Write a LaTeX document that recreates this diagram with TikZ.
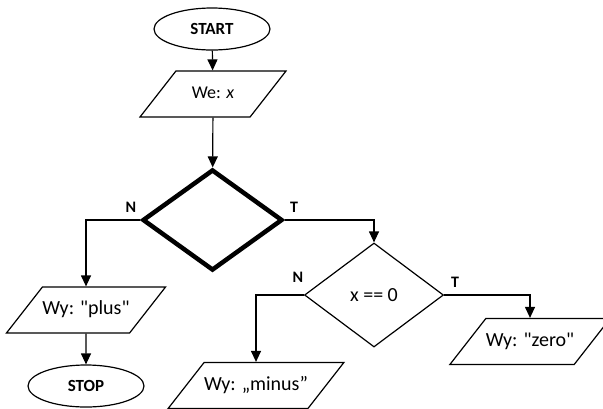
\documentclass[tikz,border=0pt]{standalone}
\usepackage{fontspec}
\setmainfont{Carlito}
\usetikzlibrary{arrows.meta,positioning,shapes.geometric}

\begin{document}
\begin{tikzpicture}[x=1pt,y=-1pt,line width=1.2pt,
  term/.style={ellipse,draw,minimum width=116pt,minimum height=42pt,inner sep=0pt,
    font=\fontsize{17}{20}\selectfont\bfseries},
  inout/.style={trapezium,draw,trapezium left angle=52,trapezium right angle=128,
    trapezium stretches body,minimum width=146pt,text height=14pt,text depth=5pt,
    inner xsep=0pt,inner ysep=13.5pt,font=\fontsize{20}{24}\selectfont},
  decision/.style={diamond,draw,minimum width=139pt,minimum height=104pt,inner sep=0pt,
    font=\fontsize{20}{24}\selectfont},
  lbl/.style={font=\fontsize{16}{19}\selectfont\bfseries,inner sep=0pt},
  flow/.style={-{Triangle[length=11pt,width=10pt]}}]
  \useasboundingbox (0,0) rectangle (603,408);

  % blocks
  \node[term] (start) at (212,29) {START};
  \node[inout,font=\fontsize{18}{22}\selectfont] (we) at (213,94) {We: \textit{x}};
  \node[decision,line width=4.5pt,minimum width=140pt,minimum height=101pt] (dec1) at (212.5,220) {};
  \node[inout] (plus) at (86,310) {Wy: \textquotedbl plus\textquotedbl};
  \node[term] (stop) at (86,386) {STOP};
  \node[decision] (dec2) at (374,295) {x == 0};
  \node[inout] (minus) at (256,385.5) {Wy: „minus”};
  \node[inout] (zero) at (530,341.5) {Wy: \textquotedbl zero\textquotedbl};

  % branch labels
  \node[lbl] (n1) at (131,207) {N};
  \node[lbl] (t1) at (294,207) {T};
  \node[lbl] (n2) at (298,277) {N};
  \node[lbl] (t2) at (455,282) {T};

  % connectors
  \draw[flow] (start) -- (we);
  \draw[flow] (we) -- (dec1);
  \draw[flow] (dec1.west) -| (plus.north);
  \draw[flow] (plus) -- (stop);
  \draw[flow] (dec1.east) -| (dec2.north);
  \draw[flow] (dec2.west) -| (minus.north);
  \draw[flow] (dec2.east) -| (zero.north);
\end{tikzpicture}
\end{document}
